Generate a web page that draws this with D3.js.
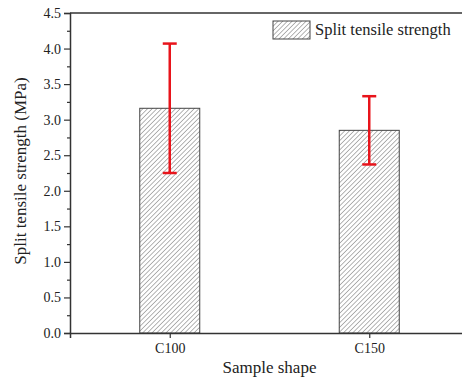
<!DOCTYPE html>
<html>
<head>
<meta charset="utf-8">
<script src="https://cdn.jsdelivr.net/npm/d3@7"></script>
<style>
  body { margin: 0; background: #fff; }
  svg { display: block; }
  text { font-family: "Liberation Serif", "Times New Roman", serif; fill: #222; }
</style>
</head>
<body>
<div id="chart"></div>
<script>
// chart data
var categories = ["C100", "C150"];
var strength = [3.16, 2.85];
var errors = [0.91, 0.48];
var yTicks = [0.0, 0.5, 1.0, 1.5, 2.0, 2.5, 3.0, 3.5, 4.0, 4.5];

var svgWidth = 462;
var svgHeight = 379;

var margin = { top: 13, right: -7, bottom: 46, left: 70 };
var width = svgWidth - margin.left - margin.right;
var height = svgHeight - margin.top - margin.bottom;

var svg = d3.select("#chart")
  .append("svg")
  .attr("width", svgWidth)
  .attr("height", svgHeight);

// hatch pattern
var defs = svg.append("defs");
var pattern = defs.append("pattern")
  .attr("id", "hatch")
  .attr("patternUnits", "userSpaceOnUse")
  .attr("width", 3.3)
  .attr("height", 4)
  .attr("patternTransform", "rotate(45)");
pattern.append("line")
  .attr("x1", 0).attr("y1", 0)
  .attr("x2", 0).attr("y2", 4)
  .attr("stroke", "#6a6a6a")
  .attr("stroke-width", 1);

var chartGroup = svg.append("g")
  .attr("transform", `translate(${margin.left}, ${margin.top})`);

// scales
var xScale = d3.scaleLinear()
  .domain([0.5, categories.length + 0.5])
  .range([0, width]);

var yScale = d3.scaleLinear()
  .domain([0, 4.5])
  .range([height, 0]);

var barWidth = 60;

// bars
chartGroup.selectAll(".bar")
  .data(strength)
  .enter()
  .append("rect")
  .attr("class", "bar")
  .attr("x", (d, i) => xScale(i + 1) - barWidth / 2)
  .attr("y", d => yScale(d))
  .attr("width", barWidth)
  .attr("height", d => height - yScale(d))
  .attr("fill", "url(#hatch)")
  .attr("stroke", "#444")
  .attr("stroke-width", 1);

// error bars
var capW = 7;
var errGroup = chartGroup.selectAll(".err")
  .data(strength)
  .enter()
  .append("g")
  .attr("class", "err")
  .attr("stroke", "#e8141b")
  .attr("stroke-width", 2.5);

errGroup.append("line")
  .attr("x1", (d, i) => xScale(i + 1))
  .attr("x2", (d, i) => xScale(i + 1))
  .attr("y1", (d, i) => yScale(d + errors[i]))
  .attr("y2", (d, i) => yScale(d - errors[i]));
errGroup.append("line")
  .attr("x1", (d, i) => xScale(i + 1) - capW)
  .attr("x2", (d, i) => xScale(i + 1) + capW)
  .attr("y1", (d, i) => yScale(d + errors[i]))
  .attr("y2", (d, i) => yScale(d + errors[i]));
errGroup.append("line")
  .attr("x1", (d, i) => xScale(i + 1) - capW)
  .attr("x2", (d, i) => xScale(i + 1) + capW)
  .attr("y1", (d, i) => yScale(d - errors[i]))
  .attr("y2", (d, i) => yScale(d - errors[i]));

// y axis (major + minor ticks)
var minorTicks = d3.range(0.25, 4.5, 0.5);
chartGroup.append("g")
  .attr("class", "y-minor")
  .call(d3.axisLeft(yScale).tickValues(minorTicks).tickSize(3).tickFormat(""))
  .call(g => g.select(".domain").remove());

var yAxis = chartGroup.append("g")
  .attr("class", "y-axis")
  .call(d3.axisLeft(yScale).tickValues(yTicks).tickSize(6).tickPadding(3).tickFormat(d3.format(".1f")));

// x axis
var xAxis = chartGroup.append("g")
  .attr("class", "x-axis")
  .attr("transform", `translate(0,${height})`)
  .call(d3.axisBottom(xScale).tickValues([1, 2]).tickSize(5).tickPadding(5)
    .tickFormat((d, i) => categories[i]));

// top border
chartGroup.append("line")
  .attr("x1", 0).attr("x2", width)
  .attr("y1", 0).attr("y2", 0)
  .attr("stroke", "#333")
  .attr("stroke-width", 1.5);

svg.selectAll(".y-axis .domain, .x-axis .domain")
  .attr("stroke", "#333")
  .attr("stroke-width", 1.5);
svg.selectAll(".tick line").attr("stroke", "#333").attr("stroke-width", 1.2);
svg.selectAll(".tick text")
  .style("font-family", "'Liberation Serif', serif")
  .style("font-size", "14px")
  .attr("fill", "#333");

// axis labels
svg.append("text")
  .attr("x", margin.left + xScale(1.5))
  .attr("y", 373)
  .attr("text-anchor", "middle")
  .style("font-size", "17px")
  .text("Sample shape");

svg.append("text")
  .attr("transform", `translate(26, ${margin.top + height / 2 - 2}) rotate(-90)`)
  .attr("text-anchor", "middle")
  .style("font-size", "17px")
  .text("Split tensile strength (MPa)");

// legend
var legend = svg.append("g")
  .attr("transform", "translate(273, 21)");
legend.append("rect")
  .attr("width", 37)
  .attr("height", 18)
  .attr("fill", "url(#hatch)")
  .attr("stroke", "#444");
legend.append("text")
  .attr("x", 42)
  .attr("y", 14)
  .style("font-size", "16.5px")
  .text("Split tensile strength");
</script>
</body>
</html>
